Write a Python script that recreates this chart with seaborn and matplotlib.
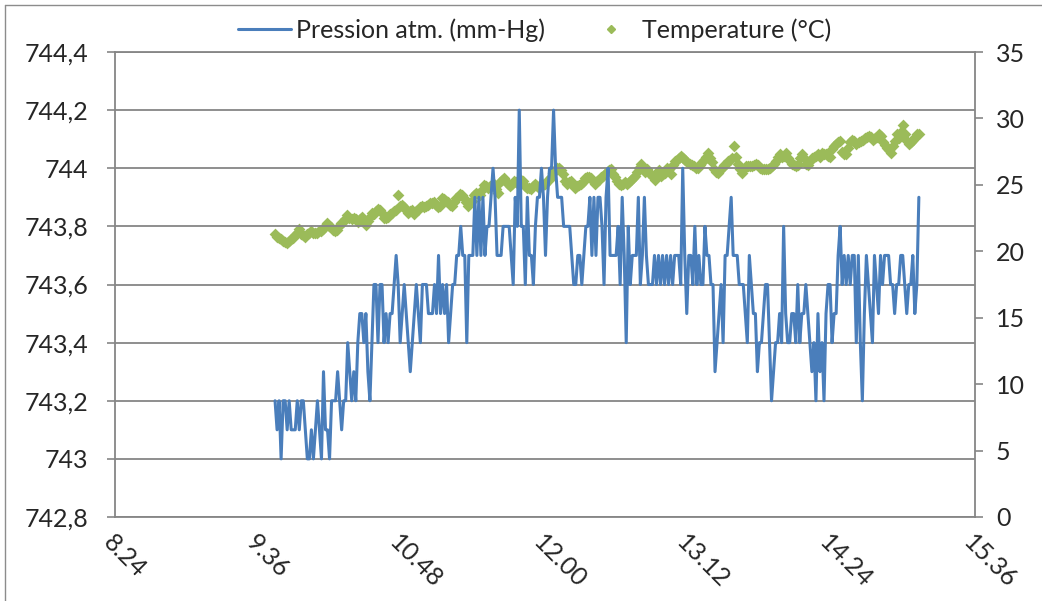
import numpy as np
import pandas as pd
import matplotlib
matplotlib.use("Agg")
import matplotlib.pyplot as plt
import seaborn as sns
from matplotlib import font_manager
from matplotlib.lines import Line2D
from matplotlib.ticker import FixedLocator, FuncFormatter

# Heures de début / fin des relevés (heures décimales), un relevé par minute environ
start_h = 9.74
end_h = 15.13

# Pression atmosphérique (mm-Hg)
pressure = [
    743.2, 743.1, 743.2, 743.0, 743.2, 743.2, 743.1, 743.2, 743.1, 743.1,
    743.1, 743.2, 743.1, 743.2, 743.2, 743.1, 743.0, 743.0, 743.1, 743.0,
    743.1, 743.2, 743.1, 743.0, 743.3, 743.1, 743.1, 743.0, 743.2, 743.2,
    743.2, 743.3, 743.2, 743.1, 743.2, 743.2, 743.4, 743.3, 743.2, 743.3,
    743.2, 743.4, 743.5, 743.5, 743.4, 743.5, 743.3, 743.2, 743.4,
    743.6, 743.6, 743.4, 743.6, 743.6, 743.4, 743.5, 743.4, 743.5, 743.5,
    743.6, 743.7, 743.6, 743.4, 743.5, 743.6, 743.5, 743.4, 743.3, 743.4,
    743.5, 743.6, 743.5, 743.4, 743.6, 743.6, 743.6, 743.5, 743.5, 743.5,
    743.6, 743.5, 743.7, 743.5, 743.6, 743.5, 743.6, 743.4, 743.5, 743.6,
    743.6, 743.7, 743.7, 743.8, 743.7, 743.7, 743.4, 743.7, 743.7, 743.7,
    743.9, 743.7, 743.9,
    743.7, 743.9, 743.7, 743.8, 743.8, 743.9, 744.0, 743.9, 743.7, 743.7,
    743.7, 743.8, 743.8, 743.8, 743.8, 743.7, 743.6, 743.9, 743.8, 744.2,
    743.8, 743.8, 743.6, 743.9, 743.7, 743.7, 743.6, 743.8, 743.9, 743.9,
    744.0, 743.9, 743.7, 743.9, 744.0, 744.0, 744.2, 744.0, 743.9, 743.9,
    743.9, 743.8, 743.8, 743.8, 743.8, 743.7, 743.6, 743.6, 743.7, 743.7,
    743.6, 743.7, 743.8, 743.8, 743.9,
    743.7, 743.9, 743.7, 743.9, 743.9, 743.8, 743.6, 743.9, 744.0, 743.7,
    743.7, 743.7, 743.7, 743.8, 743.6, 743.9, 743.7, 743.4, 743.8, 743.6,
    743.7, 743.7, 743.7, 743.9, 743.6, 743.7, 743.9, 743.7, 743.6, 743.6,
    743.6, 743.7, 743.6, 743.7, 743.6, 743.7, 743.6, 743.7, 743.6, 743.7,
    743.6, 743.7, 743.7, 743.7, 743.6, 744.0, 743.7, 743.5, 743.7, 743.7,
    743.6, 743.8, 743.6, 743.7, 743.6,
    743.6, 743.8, 743.7, 743.7, 743.6, 743.6, 743.3, 743.4, 743.5, 743.6,
    743.4, 743.7, 743.7, 743.8, 743.9, 743.7, 743.7, 743.7, 743.6, 743.6,
    743.6, 743.5, 743.4, 743.7, 743.6, 743.5, 743.5, 743.3, 743.4, 743.4,
    743.5, 743.6, 743.6, 743.4, 743.2, 743.3, 743.4, 743.4, 743.5, 743.4,
    743.8, 743.5, 743.4, 743.4, 743.5, 743.5, 743.4, 743.6, 743.4, 743.5,
    743.5, 743.6, 743.5, 743.4, 743.3,
    743.4, 743.2, 743.5, 743.3, 743.4, 743.2, 743.5, 743.6, 743.6, 743.4,
    743.5, 743.5, 743.7, 743.8, 743.6, 743.7, 743.6, 743.7, 743.6, 743.7,
    743.7, 743.4, 743.7, 743.4, 743.2, 743.5, 743.7, 743.6, 743.5, 743.4,
    743.7, 743.6, 743.5, 743.7, 743.6, 743.7, 743.7, 743.7, 743.6, 743.6,
    743.5, 743.6, 743.6, 743.7, 743.7, 743.6, 743.5, 743.6, 743.6, 743.7,
    743.5, 743.6, 743.9,
]

# Température (°C)
temperature = [
    21.3, 21.1, 21.0, 20.9, 20.8, 20.7, 20.6, 20.8, 20.9, 21.0,
    21.2, 21.4, 21.7, 21.3, 21.2, 21.1, 21.3, 21.4, 21.5, 21.4,
    21.4, 21.4, 21.5, 21.5, 21.7, 21.9, 22.1, 21.9, 21.8, 21.6,
    21.5, 21.6, 21.9, 22.1, 22.2, 22.4, 22.7, 22.5, 22.4, 22.5,
    22.4, 22.2, 22.4, 22.6, 22.2, 22.0, 22.3, 22.6, 22.9, 22.8,
    23.0, 23.2, 23.1, 22.9, 22.5, 22.5, 22.6, 22.8, 22.9, 23.0,
    23.1, 24.2, 23.4, 23.5, 23.3, 23.1, 22.9, 23.0, 23.1, 22.8,
    23.0, 23.1, 23.3, 23.4, 23.3, 23.4, 23.5, 23.6, 23.6,
    23.7, 23.5, 23.3, 23.4, 24.0, 23.9, 23.8, 23.7, 23.5, 23.4,
    23.7, 24.0, 24.1, 24.3, 24.2, 24.0, 23.7, 23.4, 23.6, 23.8,
    24.2, 24.4, 24.3, 24.2, 24.6, 25.0, 24.9, 24.8, 24.9, 25.0,
    25.1, 24.7, 24.4, 25.2, 25.4, 25.5, 25.3, 25.1, 24.9, 25.1,
    25.3, 25.2, 25.1, 25.4, 25.3, 24.9, 24.8, 24.8, 24.7, 24.9,
    25.1, 24.9, 24.8, 24.9, 25.0, 25.1, 25.3, 25.4, 25.6, 25.9,
    26.1, 26.3, 26.3, 26.1, 25.8, 25.3, 25.1, 25.2, 25.3, 25.0,
    24.8, 24.9, 25.0, 25.1, 25.2, 25.5, 25.6, 25.6, 25.5, 25.3,
    25.1, 25.3, 25.4, 25.6, 25.7, 25.8, 26.0, 26.1, 26.2, 25.8,
    25.6, 25.3, 25.1, 25.0, 25.1, 25.2, 25.1, 25.2, 25.4, 25.5,
    25.7, 26.0, 26.3, 26.6, 26.2, 26.0, 26.2, 25.9, 25.8, 25.6,
    25.4, 25.9, 26.1, 25.7, 25.8, 25.9, 26.3, 26.2, 25.8, 26.5,
    26.8, 26.9, 27.0, 27.2, 27.0, 26.9, 26.7, 26.6, 26.5, 26.4,
    26.3, 26.3, 26.5, 26.7, 26.9, 27.1, 27.4, 27.0, 26.7, 26.2,
    26.0, 25.9, 26.1, 26.3, 26.5, 26.6, 26.8, 26.9, 27.0, 27.9,
    27.1, 26.6, 26.2, 25.9, 26.2, 26.4, 26.4, 26.4, 26.4, 26.5, 26.6,
    26.5, 26.3, 26.2, 26.2, 26.2, 26.2, 26.3, 26.4, 26.6, 26.8,
    27.1, 27.3, 27.1, 27.2, 27.4, 27.0, 26.8, 26.6, 26.5, 26.4,
    26.5, 27.0, 27.3, 27.0, 26.6, 26.5, 26.8, 27.0, 27.1, 27.2,
    27.3, 27.1, 27.4, 27.3, 27.3, 27.2, 27.1, 27.7, 27.9, 28.1,
    28.2, 28.3, 27.5, 27.3, 27.3, 27.8, 28.2, 28.4, 28.3, 28.1,
    28.2, 28.3, 28.4, 28.5, 28.6, 28.7, 28.6, 28.4, 28.5, 28.6,
    28.8, 28.7, 28.2, 28.0, 27.8, 27.6, 27.4, 27.9, 28.3, 28.8,
    28.5, 29.0, 29.5, 28.8, 28.3, 28.1, 28.2, 28.4, 28.6, 28.8, 28.8,
]

xticks = [8.4, 9.6, 10.8, 12.0, 13.2, 14.4, 15.6]
xtick_labels = ["8.24", "9.36", "10.48", "12.00", "13.12", "14.24", "15.36"]
p_ticks = [742.8, 743.0, 743.2, 743.4, 743.6, 743.8, 744.0, 744.2, 744.4]
t_ticks = [0, 5, 10, 15, 20, 25, 30, 35]

df_p = pd.DataFrame({"heure": np.linspace(start_h, end_h, len(pressure)), "pression": pressure})
df_t = pd.DataFrame({"heure": np.linspace(start_h, end_h, len(temperature)), "temp": temperature})

sns.set_style("white")
installed = {f.name for f in font_manager.fontManager.ttflist}
fams = [f for f in ["Lato", "Open Sans", "DejaVu Sans"] if f in installed]
plt.rcParams["font.family"] = fams

GRID = "#868686"
BLUE = "#4A7EBB"
GREEN = "#9BBB59"
FS = 18

fig = plt.figure(figsize=(10.42, 6.01), dpi=100)
ax = fig.add_axes([115 / 1042, 84 / 601, 860 / 1042, 465 / 601])
ax2 = ax.twinx()

sns.scatterplot(data=df_t, x="heure", y="temp", ax=ax2, marker="D", s=36,
                color=GREEN, linewidth=0, legend=False)
sns.lineplot(data=df_p, x="heure", y="pression", ax=ax, color=BLUE,
             linewidth=2.2, legend=False)

ax.set_zorder(ax2.get_zorder() + 1)
ax.patch.set_visible(False)

ax.set_xlim(8.4, 15.6)
ax.set_ylim(742.8, 744.4)
ax2.set_ylim(0, 35)
ax.xaxis.set_major_locator(FixedLocator(xticks))
ax.set_xticklabels(xtick_labels)
ax.yaxis.set_major_locator(FixedLocator(p_ticks))
ax2.yaxis.set_major_locator(FixedLocator(t_ticks))


def fmt_p(v, pos):
    if abs(v - round(v)) < 1e-6:
        return str(int(round(v)))
    return f"{v:.1f}".replace(".", ",")


ax.yaxis.set_major_formatter(FuncFormatter(fmt_p))
ax.set_xlabel("")
ax.set_ylabel("")
ax2.set_ylabel("")

ax.grid(axis="y", color=GRID, linewidth=1.3)
ax.grid(axis="x", visible=False)
for side in ["left", "bottom", "top"]:
    ax.spines[side].set_color(GRID)
    ax.spines[side].set_linewidth(1.3)
ax.spines["right"].set_visible(False)
for side in ["left", "bottom", "top"]:
    ax2.spines[side].set_visible(False)
ax2.spines["right"].set_color(GRID)
ax2.spines["right"].set_linewidth(1.3)

ax.tick_params(axis="y", direction="out", length=6, width=1.2, color=GRID,
               labelsize=FS, pad=13)
ax2.tick_params(axis="y", direction="out", length=6, width=1.2, color=GRID,
                labelsize=FS, pad=9)
ax.tick_params(axis="x", direction="out", length=7, width=1.2, color=GRID,
               labelsize=FS, pad=3)
for lab in ax.get_xticklabels():
    lab.set_rotation(-45)
    lab.set_ha("left")
    lab.set_va("top")
    lab.set_rotation_mode("anchor")

handles = [
    Line2D([], [], color=BLUE, linewidth=2.2),
    Line2D([], [], color=GREEN, marker="D", linestyle="none", markersize=4.5),
]
fig.legend(handles, ["Pression atm. (mm-Hg)", "Temperature (°C)"], loc="center",
           bbox_to_anchor=(535 / 1042, 1 - 30 / 601), ncol=2, frameon=False,
           fontsize=FS, handlelength=2.1, handletextpad=0.2, columnspacing=1.6)

# bordure du cadre du graphique (visible en haut et à gauche)
fig.add_artist(Line2D([5 / 1042, 1], [1 - 5 / 601, 1 - 5 / 601],
                      transform=fig.transFigure, color="#8c8c8c", linewidth=1))
fig.add_artist(Line2D([5 / 1042, 5 / 1042], [0, 1 - 5 / 601],
                      transform=fig.transFigure, color="#8c8c8c", linewidth=1))

fig.savefig("out.png", dpi=100)
